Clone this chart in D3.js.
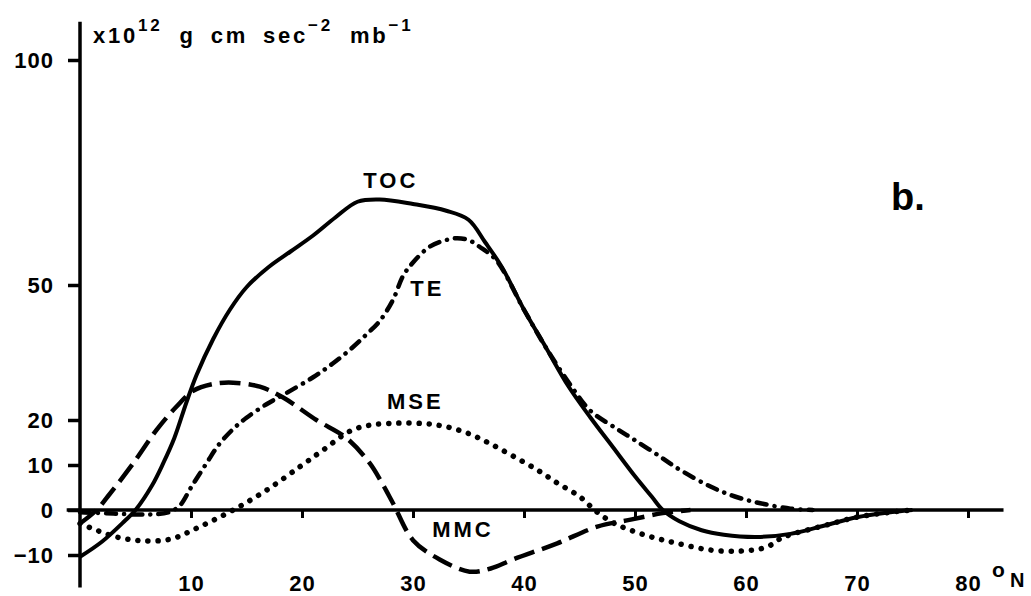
<!DOCTYPE html>
<html>
<head>
<meta charset="utf-8">
<script src="https://cdn.jsdelivr.net/npm/d3@7"></script>
<style>
  html, body { margin: 0; padding: 0; background: #fff; }
  svg { display: block; }
  text { font-family: "Liberation Sans", Arial, Helvetica, sans-serif; font-weight: bold; fill: #000; }
</style>
</head>
<body>
<svg id="chart" width="1031" height="596"></svg>
<script>
// Latitude (°N) and transport (x10^12 g cm sec^-2 mb^-1)
const tocLat = [0, 2, 4, 5, 6.5, 7.5, 8.5, 9.6, 10.5, 12, 13.5, 15, 17, 19, 21, 23, 25, 27, 30, 33, 35, 36.5, 38, 40, 42, 44, 46, 48, 50, 51.5, 52.5, 54, 56, 58, 61, 64, 67, 70, 73, 75];
const tocVal = [-10.4, -7, -2.5, 0, 5.5, 10.4, 16, 24, 30, 38, 44.5, 49.5, 54, 57.5, 61, 65, 68.5, 69, 68, 66.5, 64.5, 59.5, 54, 44.5, 36, 27.5, 20.5, 14, 7.5, 3, 0, -2.5, -4.5, -5.5, -6, -5.3, -3.5, -1.6, -0.5, 0];

const teLat = [0, 3, 6, 8, 9, 10, 11.4, 12.5, 13.8, 15, 16.8, 18.6, 21, 22.8, 24.5, 25.8, 27, 28.2, 29.1, 30, 31.5, 33, 34, 35, 36, 37.5, 40, 42, 44.4, 46, 48.4, 50, 52.3, 54, 56.8, 59, 61.3, 64, 66];
const teVal = [-0.5, -0.8, -1, -0.5, 1, 5, 10.4, 14.5, 18, 20.5, 23.5, 26, 29.5, 32.6, 36, 39, 42, 46.7, 52, 55, 58.5, 60, 60.4, 60, 58.5, 55.5, 44.5, 36, 27, 22, 18, 15.5, 11.8, 9, 5.2, 3, 1.5, 0.3, 0];

const mmcLat = [0, 1.5, 2.5, 4.8, 6.9, 8.7, 10.2, 12, 13.8, 16.2, 18.3, 21.3, 24, 26.1, 27.2, 28.2, 30, 32.4, 35.1, 37, 39, 43, 46.6, 49.5, 52.5, 55];
const mmcVal = [-3, 0, 3, 10.4, 17.8, 23, 26.5, 28, 28.3, 27.4, 25, 20, 16, 10.4, 6, 1.5, -6.7, -11, -13.7, -13, -11, -7.4, -3.7, -2.2, -0.7, 0];

const mseLat = [0, 1.5, 3.3, 5.4, 8.1, 10.8, 13.8, 16.8, 19.8, 22, 24.3, 26, 28.5, 31, 33, 35, 36.9, 39, 41.2, 43, 45, 46.6, 48, 49.5, 51.5, 53.8, 56.8, 59.7, 61.9, 63, 64, 67, 70, 73, 75];
const mseVal = [-3, -4.5, -6, -6.8, -6.5, -3.7, 0, 4.4, 9.6, 13.5, 17.5, 18.8, 19.3, 19.2, 18.5, 17, 14.8, 12, 8.9, 6, 3, -0.5, -2.8, -4.4, -6, -7.4, -8.9, -9.1, -8.2, -6.5, -5.5, -3.5, -1.6, -0.5, 0];

// Axis ticks and curve labels
const xTicks = [10, 20, 30, 40, 50, 60, 70, 80];
const yTicks = [100, 50, 20, 10, 0, -10];
const seriesNames = ["TOC", "TE", "MSE", "MMC"];

const svg = d3.select("#chart");

const x = d3.scaleLinear().domain([0, 80]).range([80, 968]);
const y = d3.scaleLinear().domain([0, 100]).range([510, 60]);

// Y axis: vertical spine plus left ticks
const yAxis = d3.axisLeft(y)
  .tickValues(yTicks)
  .tickSize(12)
  .tickPadding(14)
  .tickFormat(d => d < 0 ? "\u2212" + Math.abs(d) : d);

const gy = svg.append("g").attr("transform", `translate(${x(0)},0)`).call(yAxis);
gy.select(".domain").remove();
gy.selectAll(".tick line").attr("stroke", "#000").attr("stroke-width", 3.5);
gy.selectAll(".tick text")
  .style("font-size", "22px").style("letter-spacing", "1px")
  .attr("dy", "0.36em");
gy.append("line")
  .attr("x1", 0).attr("x2", 0)
  .attr("y1", y(108.5)).attr("y2", y(-17.2))
  .attr("stroke", "#000").attr("stroke-width", 3.5);

// X axis drawn along the zero line
const xAxis = d3.axisBottom(x)
  .tickValues(xTicks)
  .tickSize(8)
  .tickPadding(73)
  .tickFormat(d3.format("d"));

const gx = svg.append("g").attr("transform", `translate(0,${y(0)})`).call(xAxis);
gx.select(".domain").remove();
gx.selectAll(".tick line").attr("stroke", "#000").attr("stroke-width", 3);
gx.selectAll(".tick text")
  .style("font-size", "22px").style("letter-spacing", "1px")
  .attr("dy", "0");
gx.append("line")
  .attr("x1", x(-1.2)).attr("x2", x(83.2))
  .attr("y1", 0).attr("y2", 0)
  .attr("stroke", "#000").attr("stroke-width", 3.5);

// Degree-north unit after the last tick label
svg.append("text")
  .attr("x", 992).attr("y", 577)
  .style("font-size", "21px")
  .text("o");
svg.append("text")
  .attr("x", 1010).attr("y", 587)
  .style("font-size", "20px")
  .text("N");

// Unit label at the top of the y axis
svg.append("text")
  .attr("x", 93).attr("y", 43)
  .style("font-size", "22px")
  .style("letter-spacing", "2.8px")
  .style("word-spacing", "6px")
  .call(t => {
    t.append("tspan").text("x10");
    t.append("tspan").text("12").attr("dy", -12).style("font-size", "17px");
    t.append("tspan").text(" g cm sec").attr("dy", 12).attr("dx", 2);
    t.append("tspan").text("\u22122").attr("dy", -12).style("font-size", "17px");
    t.append("tspan").text(" mb").attr("dy", 12).attr("dx", 2);
    t.append("tspan").text("\u22121").attr("dy", -12).style("font-size", "17px");
  });

// Panel letter
svg.append("text")
  .attr("x", 891).attr("y", 210)
  .style("font-size", "38px")
  .text("b.");

const line = d3.line()
  .x(d => x(d[0]))
  .y(d => y(d[1]))
  .curve(d3.curveCatmullRom.alpha(0.5));

const zip = (a, b) => a.map((v, i) => [v, b[i]]);

// Meridional transport components
svg.append("path")
  .datum(zip(mseLat, mseVal))
  .attr("d", line)
  .attr("fill", "none").attr("stroke", "#000")
  .attr("stroke-width", 5.5).attr("stroke-linecap", "round")
  .attr("stroke-dasharray", "0.1 10");

svg.append("path")
  .datum(zip(mmcLat, mmcVal))
  .attr("d", line)
  .attr("fill", "none").attr("stroke", "#000")
  .attr("stroke-width", 4.5).attr("stroke-linecap", "butt")
  .attr("stroke-dasharray", "21 8");

svg.append("path")
  .datum(zip(teLat, teVal))
  .attr("d", line)
  .attr("fill", "none").attr("stroke", "#000")
  .attr("stroke-width", 4.5).attr("stroke-linecap", "round")
  .attr("stroke-dasharray", "10 8 0.1 8");

svg.append("path")
  .datum(zip(tocLat, tocVal))
  .attr("d", line)
  .attr("fill", "none").attr("stroke", "#000")
  .attr("stroke-width", 4).attr("stroke-linejoin", "round");

// Curve labels
const labelPos = [[28, 71.5], [31.3, 47.5], [30.2, 22.5], [34.5, -6.1]];
svg.selectAll("text.series")
  .data(seriesNames)
  .join("text")
  .attr("class", "series")
  .attr("x", (d, i) => x(labelPos[i][0]))
  .attr("y", (d, i) => y(labelPos[i][1]))
  .attr("text-anchor", "middle")
  .style("font-size", "22px")
  .style("letter-spacing", "3px")
  .text(d => d);
</script>
</body>
</html>
